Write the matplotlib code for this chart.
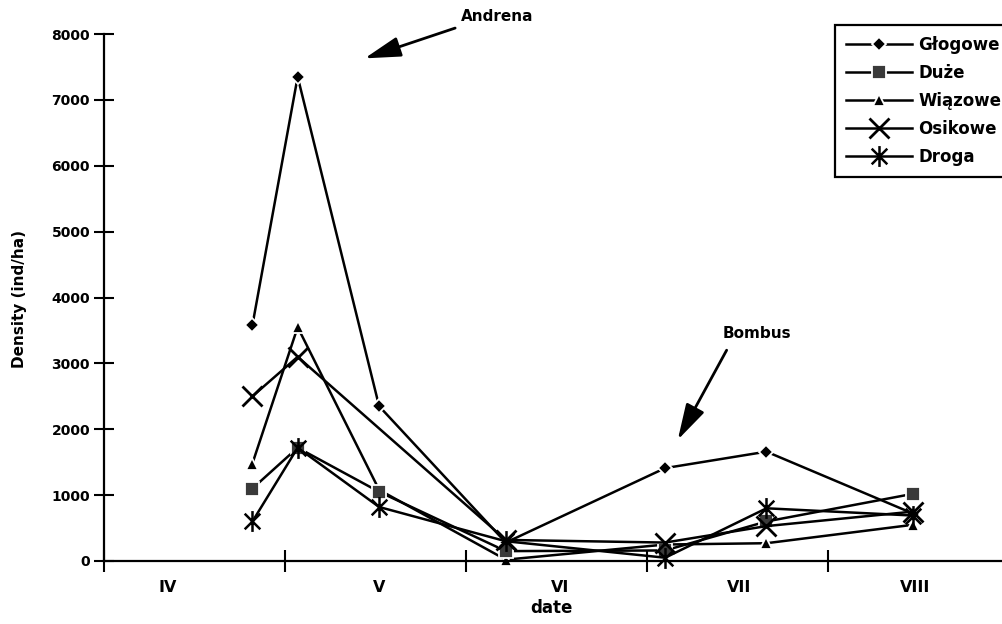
import numpy as np
import matplotlib
matplotlib.use('Agg')
from matplotlib import pyplot as plt
from matplotlib.lines import Line2D
from matplotlib.path import Path

# sampling dates, in months from the start of April (IV=0, V=1, ...)
sample_pos = [0.82, 1.07, 1.52, 2.22, 3.10, 3.66, 4.47]

glogowe = [3580, 7350, 2350, 280, 1410, 1660, 720]
duze = [1100, 1720, 1050, 150, 160, 600, 1020]
wiazowe = [1480, 3550, 1080, 20, 250, 270, 550]
osikowe = [2500, 3100, None, 320, 280, 530, 750]
droga = [600, 1720, 820, 300, 50, 800, 690]

month_ticks = [0, 1, 2, 3, 4, 5]
month_names = ['IV', 'V', 'VI', 'VII', 'VIII']
month_label_pos = [0.35, 1.52, 2.52, 3.51, 4.48]
y_ticks = [0, 1000, 2000, 3000, 4000, 5000, 6000, 7000, 8000]

W, H = 1003, 624
BOLD = dict(family='DejaVu Sans', weight='bold')

# asterisk marker: an X with a vertical bar through it
ast = Path([(0, -1), (0, 1), (-0.75, -0.75), (0.75, 0.75), (-0.75, 0.75), (0.75, -0.75)],
           [Path.MOVETO, Path.LINETO, Path.MOVETO, Path.LINETO, Path.MOVETO, Path.LINETO])

fig = plt.figure(figsize=(W / 100, H / 100), dpi=100)
ax = fig.add_axes([104 / W, 63 / H, 905 / W, 527 / H])
ax.set_xlim(0, 5)
ax.set_ylim(0, 8000)

for s in ['top', 'right']:
    ax.spines[s].set_visible(False)
for s in ['left', 'bottom']:
    ax.spines[s].set_linewidth(1.6)

ax.set_yticks(y_ticks)
ax.set_yticklabels([str(v) for v in y_ticks], fontsize=10, **BOLD)
ax.tick_params(axis='y', direction='inout', length=14, width=1.5, pad=3)

ax.set_xticks(month_ticks)
ax.set_xticklabels([''] * len(month_ticks))
ax.tick_params(axis='x', which='major', direction='inout', length=16, width=1.5)
ax.set_xticks(month_label_pos, minor=True)
ax.set_xticklabels(month_names, minor=True, fontsize=11.5, **BOLD)
ax.tick_params(axis='x', which='minor', length=0, pad=14)

styles = [
    ('Głogowe', glogowe, 3, dict(marker='D', ms=7, mfc='black', mec='white', mew=1.3)),
    ('Duże', duze, 3.5, dict(marker='s', ms=10, mfc='#3a3a3a', mec='white', mew=1.3)),
    ('Wiązowe', wiazowe, 2, dict(marker='^', ms=9, mfc='black', mec='white', mew=1.3)),
    ('Osikowe', osikowe, 4, dict(marker='x', ms=14, mec='black', mew=2)),
    ('Droga', droga, 4, dict(marker=ast, ms=15, mfc='none', mec='black', mew=1.8)),
]

handles = []
for name, vals, z, mk in styles:
    xs = [x for x, v in zip(sample_pos, vals) if v is not None]
    ys = [v for v in vals if v is not None]
    ax.plot(xs, ys, color='black', lw=1.8, clip_on=False, zorder=z, **mk)
    handles.append(Line2D([], [], color='black', lw=1.8, label=name, **mk))

leg = fig.legend(handles=handles, loc='upper left',
                 bbox_to_anchor=(835 / W, 1 - 25 / H),
                 frameon=True, fancybox=False, edgecolor='black', framealpha=1,
                 borderpad=0.65, labelspacing=0.6, handlelength=4.0,
                 handletextpad=0.35, borderaxespad=0,
                 prop=dict(family='DejaVu Sans', weight='bold', size=12))
leg.get_frame().set_linewidth(1.6)

arrow = dict(arrowstyle='-|>,head_length=1.0,head_width=0.28', color='black',
             lw=2.0, mutation_scale=22, shrinkA=0, shrinkB=0)
ax.annotate('', xy=(1.44, 7630), xytext=(1.94, 8090), arrowprops=arrow,
            annotation_clip=False)
ax.text(2.17, 8270, 'Andrena', ha='center', va='center', fontsize=11, **BOLD)
ax.annotate('', xy=(3.17, 1840), xytext=(3.44, 3200), arrowprops=arrow,
            annotation_clip=False)
ax.text(3.61, 3460, 'Bombus', ha='center', va='center', fontsize=11, **BOLD)

fig.text(551 / W, 1 - 608 / H, 'date', ha='center', va='center', fontsize=12, **BOLD)
fig.text(20 / W, 1 - 299 / H, 'Density (ind/ha)', rotation=90, ha='center',
         va='center', fontsize=11, **BOLD)

fig.savefig('out.png', dpi=100)
